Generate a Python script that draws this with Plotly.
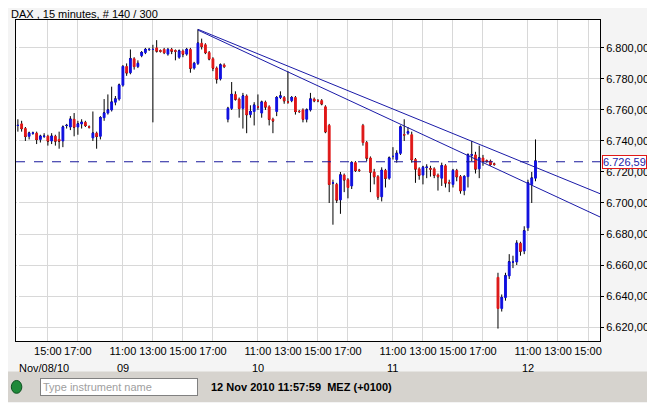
import plotly.graph_objects as go

# OHLC, 15 minute candles, 08 Nov 13:00 .. 12 Nov 11:30
opens = [6750, 6751, 6748, 6743, 6745, 6745, 6741, 6743, 6743, 6740, 6743, 6741, 6740, 6750, 6749, 6754, 6749, 6751, 6752, 6749,
         6742, 6745, 6743, 6755, 6758, 6760, 6765, 6767, 6776, 6788, 6784, 6793, 6788, 6795, 6797, 6799, 6799, 6800, 6798, 6799,
         6796, 6799, 6798, 6794, 6798, 6796, 6799, 6787, 6790, 6803, 6802, 6797, 6793, 6787, 6780, 6789,
         6754, 6761, 6770, 6767, 6761, 6769, 6757, 6759, 6762, 6758, 6765, 6762, 6754, 6759, 6768, 6768, 6765, 6766, 6768, 6759,
         6760, 6754, 6760, 6767, 6766, 6766, 6762, 6750, 6713, 6712, 6702, 6718, 6715, 6711, 6726, 6721,
         6750, 6739, 6729, 6720, 6717, 6704, 6721, 6716, 6730, 6728, 6732, 6744, 6745, 6744, 6728, 6722, 6718, 6723, 6722, 6722,
         6718, 6716, 6724, 6713, 6712, 6721, 6717, 6708, 6717, 6731, 6731, 6722, 6729, 6727, 6727, 6725,
         6652, 6632, 6639, 6653, 6662, 6662, 6674, 6669, 6684, 6712, 6716]
closes = [6750, 6748, 6743, 6745, 6745, 6741, 6743, 6743, 6740, 6743, 6740, 6740, 6749, 6750, 6754, 6749, 6751, 6752, 6750, 6749,
          6745, 6743, 6755, 6758, 6760, 6765, 6767, 6776, 6788, 6784, 6793, 6788, 6790, 6797, 6799, 6799, 6799, 6798, 6798, 6797,
          6799, 6798, 6798, 6798, 6796, 6799, 6787, 6790, 6803, 6801, 6797, 6793, 6787, 6780, 6789, 6788,
          6761, 6770, 6767, 6761, 6769, 6757, 6759, 6763, 6762, 6765, 6762, 6754, 6753, 6768, 6769, 6766, 6765, 6768, 6759, 6759,
          6754, 6760, 6767, 6766, 6766, 6764, 6746, 6712, 6713, 6702, 6718, 6715, 6710, 6726, 6721, 6721,
          6739, 6729, 6720, 6717, 6704, 6721, 6716, 6729, 6730, 6732, 6749, 6744, 6746, 6728, 6722, 6718, 6723, 6723, 6722, 6718,
          6717, 6724, 6713, 6713, 6721, 6717, 6708, 6717, 6731, 6731, 6722, 6729, 6727, 6727, 6725, 6725,
          6632, 6639, 6653, 6662, 6662, 6674, 6669, 6682, 6713, 6716, 6727]
highs = [6754, 6753, 6749, 6746, 6746, 6746, 6744, 6745, 6744, 6745, 6744, 6746, 6750, 6751, 6756, 6758, 6753, 6754, 6753, 6750,
         6759, 6746, 6756, 6767, 6770, 6775, 6769, 6777, 6789, 6790, 6799, 6794, 6792, 6798, 6800, 6800, 6802, 6805, 6799, 6800,
         6800, 6800, 6799, 6799, 6799, 6800, 6800, 6791, 6812, 6806, 6803, 6798, 6794, 6788, 6790, 6790,
         6762, 6778, 6772, 6768, 6771, 6770, 6763, 6765, 6770, 6766, 6766, 6763, 6755, 6769, 6772, 6769, 6785, 6769, 6769, 6760,
         6761, 6761, 6771, 6768, 6767, 6767, 6763, 6751, 6715, 6713, 6720, 6719, 6716, 6727, 6727, 6722,
         6751, 6740, 6730, 6722, 6718, 6723, 6722, 6730, 6736, 6734, 6750, 6754, 6749, 6746, 6729, 6723, 6724, 6725, 6724, 6723,
         6719, 6726, 6725, 6715, 6722, 6722, 6718, 6718, 6732, 6740, 6733, 6737, 6731, 6728, 6728, 6726,
         6655, 6641, 6655, 6667, 6666, 6676, 6675, 6685, 6715, 6720, 6741]
lows = [6746, 6746, 6740, 6741, 6744, 6738, 6739, 6742, 6737, 6738, 6737, 6735, 6736, 6748, 6747, 6743, 6744, 6748, 6749, 6748,
        6740, 6735, 6741, 6753, 6757, 6759, 6763, 6766, 6775, 6782, 6783, 6786, 6787, 6794, 6796, 6798, 6752, 6797, 6797, 6796,
        6795, 6796, 6792, 6793, 6794, 6795, 6784, 6786, 6789, 6799, 6796, 6792, 6785, 6777, 6779, 6787,
        6752, 6760, 6766, 6755, 6748, 6745, 6755, 6750, 6760, 6755, 6760, 6750, 6745, 6756, 6767, 6764, 6764, 6765, 6757, 6758,
        6752, 6752, 6759, 6765, 6765, 6763, 6745, 6700, 6686, 6700, 6693, 6707, 6703, 6709, 6720, 6720,
        6737, 6727, 6707, 6712, 6702, 6701, 6710, 6715, 6728, 6726, 6731, 6740, 6744, 6726, 6713, 6715, 6712, 6716, 6717, 6716,
        6708, 6711, 6710, 6707, 6710, 6714, 6706, 6705, 6710, 6727, 6719, 6716, 6724, 6726, 6724, 6724,
        6619, 6630, 6637, 6651, 6658, 6660, 6666, 6667, 6682, 6700, 6714]

tick_idx = [8, 16, 28, 36, 44, 52, 64, 72, 80, 88, 100, 108, 116, 124, 136, 144, 152]
tick_txt = ['15:00', '17:00', '11:00', '13:00', '15:00', '17:00',
            '11:00', '13:00', '15:00', '17:00', '11:00', '13:00', '15:00', '17:00',
            '11:00', '13:00', '15:00']
day_idx = [7, 28, 64, 100, 136]
day_txt = ['Nov/08/10', '09', '10', '11', '12']
price_ticks = [6620, 6640, 6660, 6680, 6700, 6720, 6740, 6760, 6780, 6800]
last_price = 6726.59
# trend lines: [x0, x1], [y0, y1]
trend1_x, trend1_y = [48, 155.2], [6812, 6706]
trend2_x, trend2_y = [48, 155.2], [6811.5, 6691]

idx = list(range(len(opens)))
body_hi = [max(o, c) for o, c in zip(opens, closes)]
body_lo = [min(o, c) for o, c in zip(opens, closes)]

def fmt(v):
    return '{:,.2f}'.format(v).replace(',', 'X').replace('.', ',').replace('X', '.')

fig = go.Figure()
# black wicks
fig.add_trace(go.Candlestick(x=idx, open=closes, high=highs, low=lows, close=closes,
                             increasing=dict(line=dict(color='black', width=1), fillcolor='black'),
                             decreasing=dict(line=dict(color='black', width=1), fillcolor='black'),
                             whiskerwidth=0, hoverinfo='skip'))
# coloured bodies
fig.add_trace(go.Candlestick(x=idx, open=opens, high=body_hi, low=body_lo, close=closes,
                             increasing=dict(line=dict(color='#1010e0', width=1), fillcolor='#1010e0'),
                             decreasing=dict(line=dict(color='#e01818', width=1), fillcolor='#e01818'),
                             whiskerwidth=0))
fig.add_trace(go.Scatter(x=trend1_x, y=trend1_y, mode='lines', line=dict(color='#1a1aa8', width=1)))
fig.add_trace(go.Scatter(x=trend2_x, y=trend2_y, mode='lines', line=dict(color='#1a1aa8', width=1)))

fig.add_hline(y=last_price, line=dict(color='#1a1a9c', width=1, dash='dash'))

fig.update_layout(
    width=655, height=403, showlegend=False,
    margin=dict(l=8, r=63, t=12, b=70),
    paper_bgcolor='#f4f4f4', plot_bgcolor='white',
    font=dict(family='Liberation Sans, Arial', size=11, color='black'),
    xaxis=dict(range=[-0.5, 155.2], tickvals=tick_idx, ticktext=tick_txt, showgrid=True,
               gridcolor='#d8d8d8', rangeslider=dict(visible=False), showline=True,
               linecolor='black', mirror=True, ticks='', tickangle=0, automargin=False,
               tickfont=dict(size=11, family='Liberation Sans Narrow, Liberation Sans')),
    yaxis=dict(range=[6611, 6818], side='right', tickvals=price_ticks, automargin=False,
               ticktext=[fmt(v) for v in price_ticks], showgrid=True, gridcolor='#d8d8d8',
               showline=True, linecolor='black', mirror=True, ticks='outside', ticklen=3,
               tickcolor='black', zeroline=False),
)

for di, dt in zip(day_idx, day_txt):
    fig.add_annotation(x=di, xref='x', yref='paper', y=0, yshift=-27, text=dt, showarrow=False,
                       yanchor='middle', font=dict(size=11, family='Liberation Sans Narrow, Liberation Sans'))

# title
fig.add_annotation(xref='paper', yref='paper', x=-0.012, y=1.0, yshift=6, xanchor='left', yanchor='middle',
                   text='DAX , 15 minutes, # 140 / 300', showarrow=False, font=dict(size=11))
# last price box
fig.add_annotation(xref='paper', yref='y', x=1.0, y=last_price, xanchor='left', xshift=2,
                   text=fmt(last_price), showarrow=False, font=dict(size=11, color='#1a1aa8'),
                   bordercolor='#e01818', borderwidth=1, bgcolor='white', borderpad=0)

# status bar
fig.add_shape(type='rect', xref='paper', yref='paper', x0=-0.02, x1=1.15, y0=-0.19, y1=-0.095,
              fillcolor='#d6d3ce', line=dict(width=0), layer='below')
fig.add_shape(type='circle', xref='paper', yref='paper', x0=-0.008, x1=0.01, y0=-0.163, y1=-0.123,
              fillcolor='#1f8a3a', line=dict(color='#0d5020', width=1))
fig.add_annotation(xref='paper', yref='paper', x=0.041, y=-0.143, xanchor='left', yanchor='middle',
                   text='Type instrument name' + '&nbsp;' * 14, showarrow=False,
                   font=dict(size=11, color='#a0a0a0'), bgcolor='white', bordercolor='#808080',
                   borderwidth=1, borderpad=2)
fig.add_annotation(xref='paper', yref='paper', x=0.33, y=-0.143, xanchor='left', yanchor='middle',
                   text='<b>12 Nov 2010 11:57:59  MEZ (+0100)</b>', showarrow=False, font=dict(size=11))

fig.write_html("out.html")
